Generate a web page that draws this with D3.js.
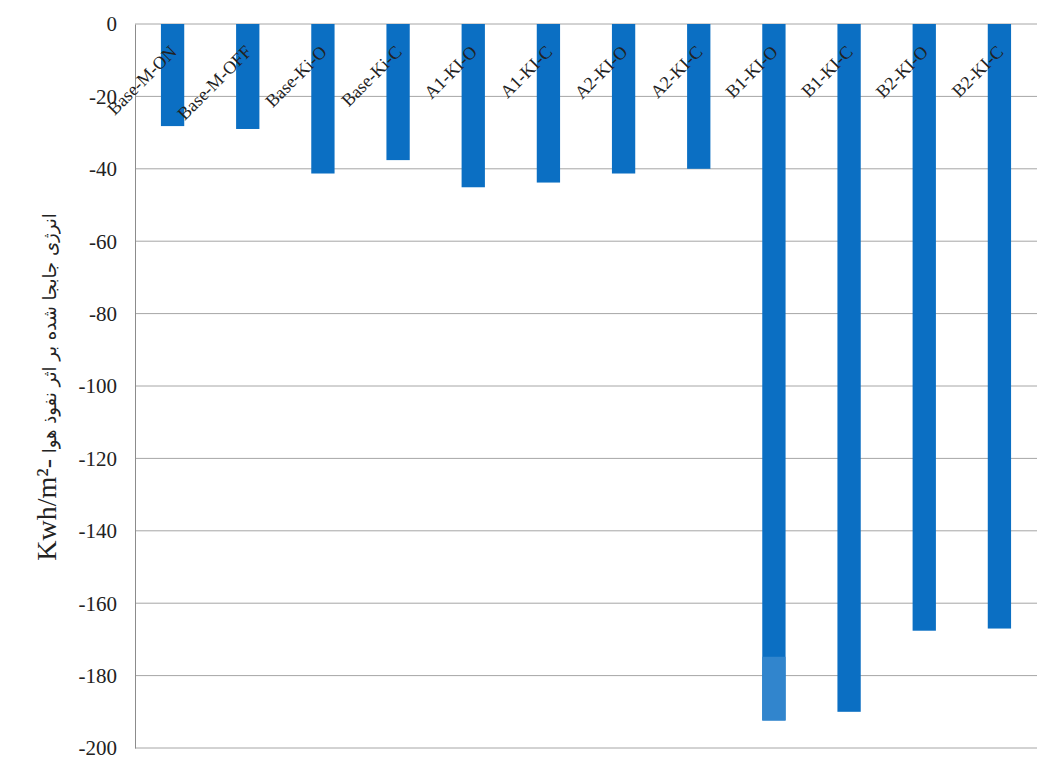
<!DOCTYPE html>
<html><head><meta charset="utf-8">
<script src="https://cdn.jsdelivr.net/npm/d3@7"></script>
<style>body{margin:0;background:#fff} .serif{font-family:"Liberation Serif","Times New Roman",serif}</style>
</head><body>
<svg id="c" width="1048" height="765"></svg>
<script>
const categories = ["Base-M-ON","Base-M-OFF","Base-Ki-O","Base-Ki-C","A1-KI-O","A1-KI-C","A2-KI-O","A2-KI-C","B1-KI-O","B1-KI-C","B2-KI-O","B2-KI-C"];
const values = [-28.2,-29,-41.3,-37.6,-45.1,-43.8,-41.3,-40,-192.4,-190,-167.6,-167];
const yTicks = [0,-20,-40,-60,-80,-100,-120,-140,-160,-180,-200];
const highlightCat = "B1-KI-O";
const highlightFrom = -174.8;

const svg = d3.select("#c");
const m = {l:135, r:1037, t:24, b:748};
const x = d3.scaleBand().domain(categories).range([m.l, m.r]).paddingInner(0.69).paddingOuter(0.345);
const y = d3.scaleLinear().domain([0,-200]).range([m.t, m.b]);

// gridlines
svg.append("g").selectAll("line").data(yTicks).join("line")
  .attr("x1", m.l).attr("x2", m.r)
  .attr("y1", d=>y(d)).attr("y2", d=>y(d))
  .attr("stroke", "#a6a6a6").attr("stroke-width", 1);

// axis line
const ax = svg.append("g").attr("transform", `translate(${m.l},0)`)
  .call(d3.axisLeft(y).tickValues(yTicks).tickSize(0).tickFormat(""));
ax.select(".domain").attr("stroke", "#8c8c8c");

// tick labels
svg.append("g").selectAll("text").data(yTicks).join("text")
  .attr("class","serif")
  .attr("x", 117).attr("y", d=>y(d)).attr("dy","0.35em")
  .attr("text-anchor","end").attr("font-size", 21).attr("fill","#222")
  .text(d=>String(d));

// bars
svg.append("g").selectAll("rect").data(categories).join("rect")
  .attr("x", d=>x(d)).attr("width", x.bandwidth())
  .attr("y", (d,i)=>y(Math.max(0, values[i])))
  .attr("height", (d,i)=>Math.abs(y(values[i]) - y(0)))
  .attr("fill", "#0b6fc3");

// lighter lower section on one bar
const hi = categories.indexOf(highlightCat);
svg.append("rect").attr("x", x(highlightCat)).attr("width", x.bandwidth())
  .attr("y", y(highlightFrom)).attr("height", y(values[hi]) - y(highlightFrom))
  .attr("fill", "#3185cd");

// category labels
svg.append("g").selectAll("text").data(categories).join("text")
  .attr("class","serif")
  .attr("transform", d=>`translate(${x(d)+x.bandwidth()/2+5},53) rotate(-45)`)
  .attr("text-anchor","end").attr("font-size", 18).attr("fill","#222")
  .text(d=>d);

// y axis title
const t = svg.append("text")
  .attr("class","serif")
  .attr("transform", "translate(56,387) rotate(-90)")
  .attr("text-anchor","middle").attr("fill","#222");
t.append("tspan").attr("font-size", 28).text("Kwh/m²-");
t.append("tspan").attr("font-size", 18).style("font-family","'DejaVu Sans'").text(" انرژی جابجا شده بر اثر نفوذ هوا");
</script>
</body></html>
